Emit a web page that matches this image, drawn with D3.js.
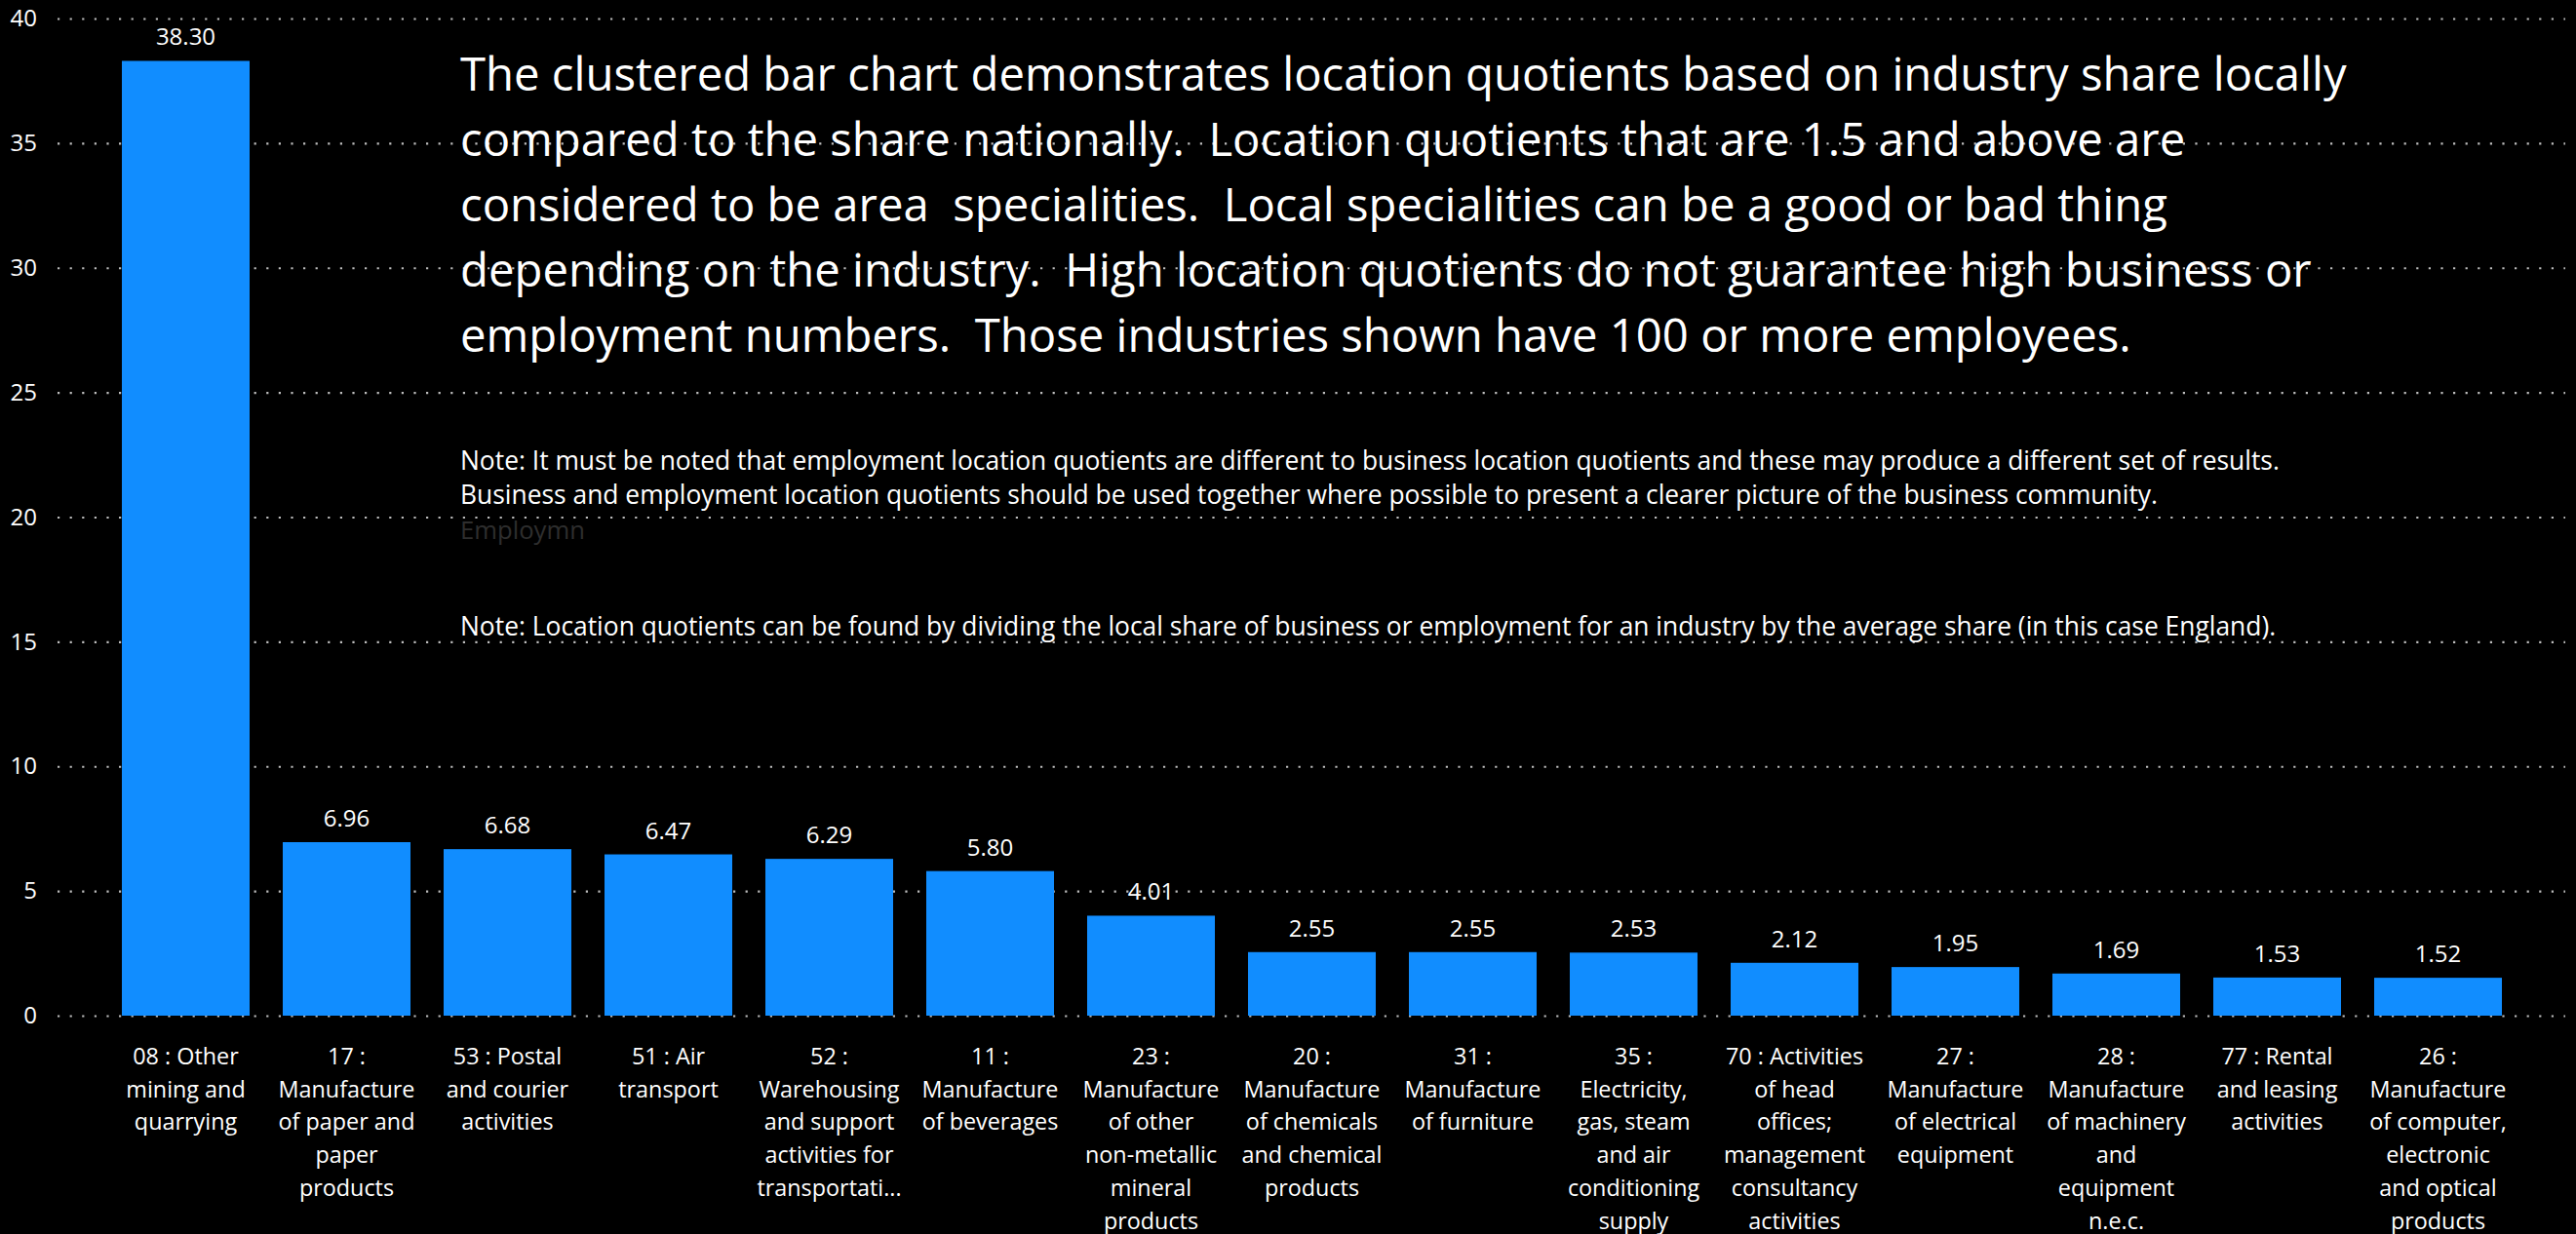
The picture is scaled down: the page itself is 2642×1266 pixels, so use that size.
<!DOCTYPE html>
<html><head><meta charset="utf-8">
<script src="https://cdn.jsdelivr.net/npm/d3@7"></script>
<style>html,body{margin:0;padding:0;background:#000;overflow:hidden}</style>
</head><body><svg id="chart" width="2642" height="1266"></svg>
<script>
// ---- data ----
const categories = [
  ["08 : Other","mining and","quarrying"],
  ["17 :","Manufacture","of paper and","paper","products"],
  ["53 : Postal","and courier","activities"],
  ["51 : Air","transport"],
  ["52 :","Warehousing","and support","activities for","transportati..."],
  ["11 :","Manufacture","of beverages"],
  ["23 :","Manufacture","of other","non-metallic","mineral","products"],
  ["20 :","Manufacture","of chemicals","and chemical","products"],
  ["31 :","Manufacture","of furniture"],
  ["35 :","Electricity,","gas, steam","and air","conditioning","supply"],
  ["70 : Activities","of head","offices;","management","consultancy","activities"],
  ["27 :","Manufacture","of electrical","equipment"],
  ["28 :","Manufacture","of machinery","and","equipment","n.e.c."],
  ["77 : Rental","and leasing","activities"],
  ["26 :","Manufacture","of computer,","electronic","and optical","products"]
];
const values = [38.30, 6.96, 6.68, 6.47, 6.29, 5.80, 4.01, 2.55, 2.55, 2.53, 2.12, 1.95, 1.69, 1.53, 1.52];
const yTicks = [0, 5, 10, 15, 20, 25, 30, 35, 40];
const titleLines = [
  "The clustered bar chart demonstrates location quotients based on industry share locally",
  "compared to the share nationally.  Location quotients that are 1.5 and above are",
  "considered to be area  specialities.  Local specialities can be a good or bad thing",
  "depending on the industry.  High location quotients do not guarantee high business or",
  "employment numbers.  Those industries shown have 100 or more employees."
];
const noteLines = [
  "Note: It must be noted that employment location quotients are different to business location quotients and these may produce a different set of results.",
  "Business and employment location quotients should be used together where possible to present a clearer picture of the business community."
];
const faintText = "Employmn";
const note2Lines = [
  "Note: Location quotients can be found by dividing the local share of business or employment for an industry by the average share (in this case England)."
];

// ---- layout ----
const W = 2642, H = 1266;
const FONT = "'Open Sans', 'Noto Sans', sans-serif";
const svg = d3.select("#chart");
svg.append("rect").attr("width", W).attr("height", H).attr("fill", "#000");

function fitSize(str, target) {
  const t = svg.append("text").attr("font-family", FONT).attr("font-size", 100)
    .style("white-space", "pre").text(str);
  const w = t.node().getComputedTextLength();
  t.remove();
  return 100 * target / w;
}

const x = d3.scaleBand().domain(d3.range(values.length))
  .range([108, 2583]).paddingInner(0.206).paddingOuter(0.103);
const y = d3.scaleLinear().domain([0, 40]).range([1042, 19]);

const labelSize = Math.min(24, fitSize("Manufacture", 140));
const numSize = 24;

// y axis + dotted gridlines
const gx0 = 59, gx1 = 2631;
const yAxis = svg.append("g").attr("transform", `translate(${gx0},0)`)
  .call(d3.axisLeft(y).tickValues(yTicks).tickSize(-(gx1 - gx0)).tickPadding(21).tickFormat(d3.format("d")));
yAxis.select(".domain").remove();
yAxis.selectAll(".tick line").attr("stroke", "#bdbdbd").attr("stroke-width", 2.2)
  .attr("stroke-dasharray", "2.2 10.4");
yAxis.selectAll(".tick text").attr("fill", "#ffffff").attr("font-family", FONT)
  .attr("font-size", numSize);

// bars
svg.append("g").selectAll("rect").data(values).join("rect")
  .attr("x", (d, i) => x(i)).attr("width", x.bandwidth())
  .attr("y", d => y(d)).attr("height", d => y(0) - y(d))
  .attr("fill", "#118DFF");

// value labels
svg.append("g").selectAll("text").data(values).join("text")
  .attr("x", (d, i) => x(i) + x.bandwidth() / 2)
  .attr("y", d => y(d) - 16)
  .attr("text-anchor", "middle").attr("fill", "#ffffff")
  .attr("font-family", FONT).attr("font-size", numSize)
  .text(d => d3.format(".2f")(d));

// x axis labels
const xAxis = svg.append("g").attr("transform", `translate(0,${y(0)})`)
  .call(d3.axisBottom(x).tickSize(0).tickFormat(""));
xAxis.select(".domain").remove();
xAxis.selectAll(".tick text").remove();
xAxis.selectAll(".tick").append("text")
  .attr("text-anchor", "middle").attr("fill", "#ffffff")
  .attr("font-family", FONT).attr("font-size", labelSize)
  .selectAll("tspan").data(i => categories[i]).join("tspan")
  .attr("x", 0).attr("y", (d, j) => 50 + j * 33.7).text(d => d);

// big description text
const titleSize = fitSize(titleLines[0], 1935);
svg.append("text").attr("font-family", FONT).attr("font-size", titleSize)
  .attr("fill", "#ffffff").style("white-space", "pre")
  .selectAll("tspan").data(titleLines).join("tspan")
  .attr("x", 472).attr("y", (d, i) => 93 + i * 67).text(d => d);

// notes
const noteSize = fitSize(noteLines[0], 1867);
svg.append("text").attr("font-family", FONT).attr("font-size", noteSize)
  .attr("fill", "#ffffff").style("white-space", "pre")
  .selectAll("tspan").data(noteLines).join("tspan")
  .attr("x", 472).attr("y", (d, i) => 482 + i * 35).text(d => d);

svg.append("text").attr("font-family", FONT).attr("font-size", fitSize(faintText, 128))
  .attr("fill", "#2e2e2e").attr("x", 472).attr("y", 553).text(faintText);

svg.append("text").attr("font-family", FONT).attr("font-size", noteSize)
  .attr("fill", "#ffffff").style("white-space", "pre")
  .selectAll("tspan").data(note2Lines).join("tspan")
  .attr("x", 472).attr("y", (d, i) => 652 + i * 35).text(d => d);
</script>
</body></html>
